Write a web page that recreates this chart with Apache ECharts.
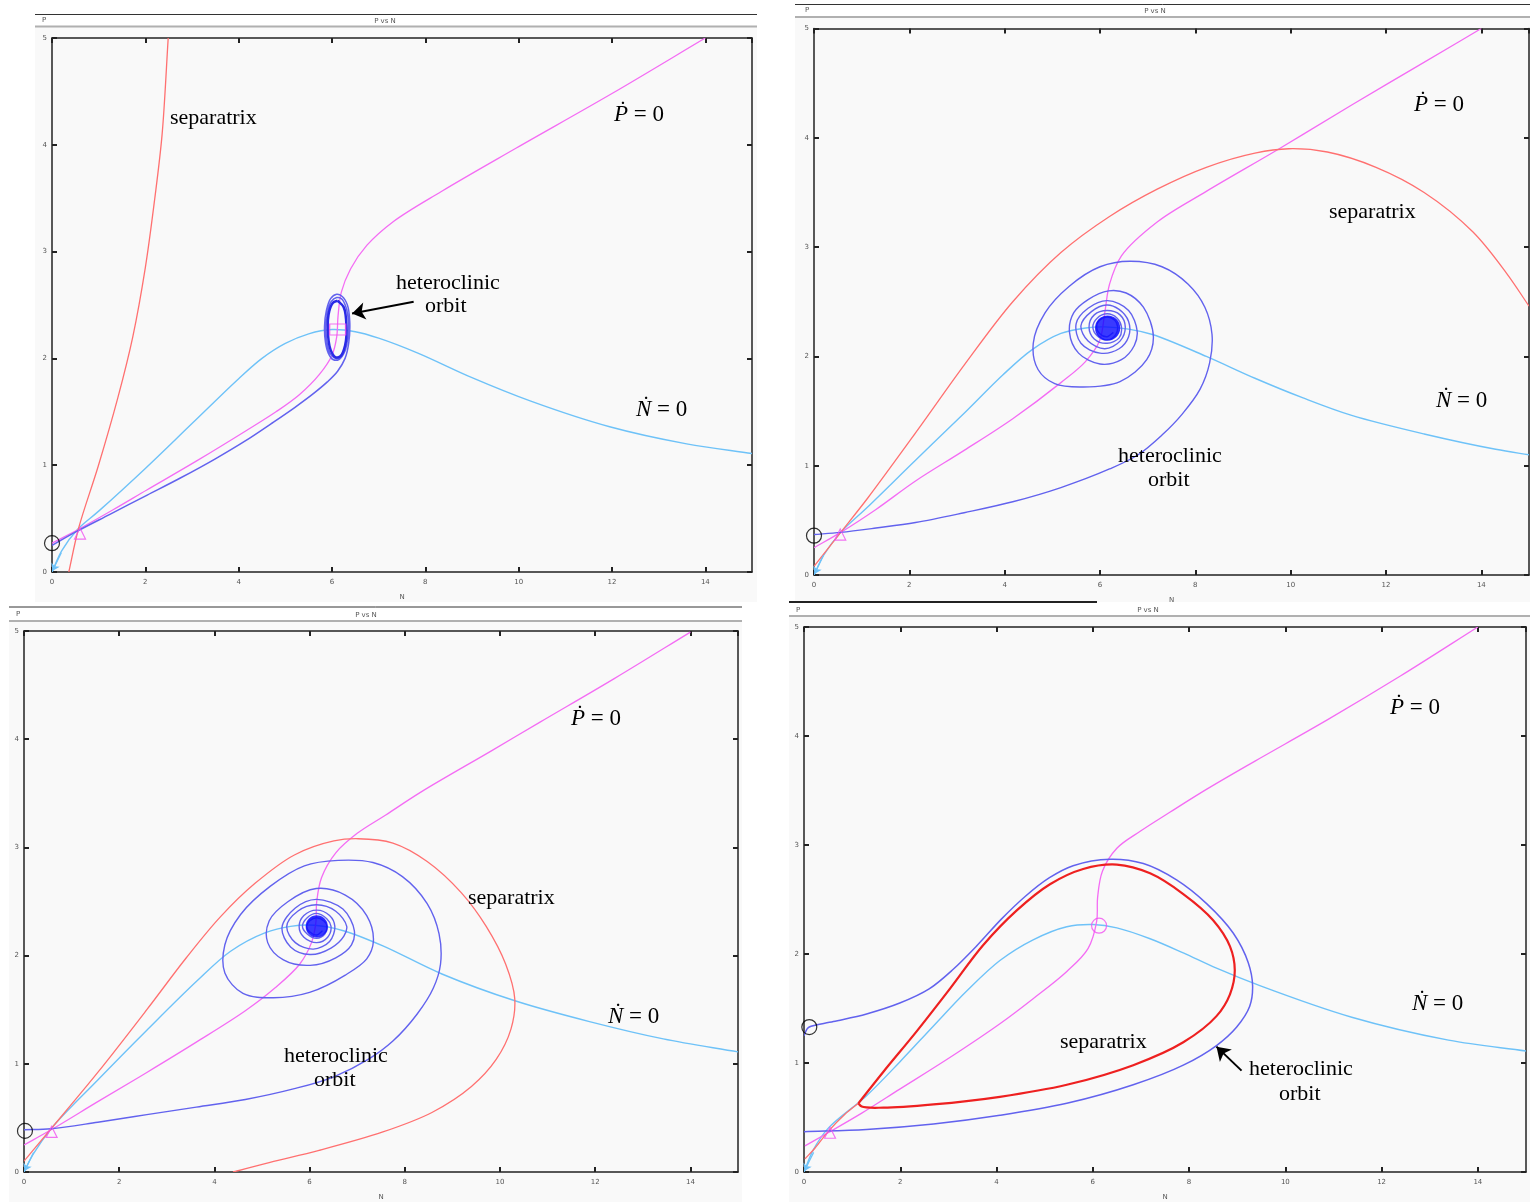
<!DOCTYPE html>
<html><head><meta charset="utf-8">
<script src="https://cdn.jsdelivr.net/npm/echarts@6/dist/echarts.min.js"></script>
<style>html,body{margin:0;padding:0;background:#fff}#c{width:1530px;height:1202px}</style>
</head><body><div id="c"></div><script>
// ---------- DATA (N, P) ----------
// Panel 1 (top-left)
const p1NNull = [[0,0],[0.21,0.2],[0.55,0.4],[1.0,0.57],[2.0,0.97],[3.0,1.39],[4.0,1.81],[4.5,2.0],[5.0,2.14],[5.5,2.23],[6.0,2.27],[6.5,2.25],[7.0,2.19],[7.84,2.05],[9.0,1.82],[10.26,1.6],[11.95,1.36],[13.6,1.2],[15,1.11]];
const p1PNull = [[0,0.27],[0.57,0.4],[1.3,0.58],[2.04,0.77],[3.1,1.04],[4.15,1.32],[4.8,1.5],[5.3,1.66],[5.73,1.85],[6.0,2.03],[6.1,2.2],[6.13,2.4],[6.2,2.62],[6.4,2.84],[6.75,3.06],[7.31,3.28],[8.37,3.57],[9.95,3.97],[12.0,4.48],[14.0,5.0]];
const p1Sep = [[0.36,0],[0.57,0.41],[0.99,0.99],[1.41,1.63],[1.73,2.2],[2.0,2.85],[2.2,3.49],[2.36,4.1],[2.49,5.0]];
const p1Orbit = [[0,0.25],[0.53,0.38],[1.24,0.54],[2.04,0.72],[2.75,0.88],[3.5,1.06],[4.15,1.23],[4.7,1.39],[5.2,1.54],[5.6,1.67],[5.9,1.78],[6.12,1.88],[6.28,2.0],[6.36,2.15],[6.38,2.35],[6.33,2.5],[6.22,2.58],[6.1,2.6],[5.97,2.56],[5.88,2.45],[5.84,2.3],[5.86,2.15],[5.92,2.05],[6.02,1.99],[6.15,1.99],[6.27,2.06],[6.34,2.2],[6.35,2.35],[6.3,2.48],[6.2,2.56],[6.1,2.57],[5.98,2.53],[5.9,2.42],[5.87,2.28],[5.9,2.13],[5.97,2.04],[6.08,2.0],[6.2,2.02],[6.29,2.12]];
const p1Cycle = [[6.12,2.54],[6.25,2.48],[6.31,2.3],[6.28,2.12],[6.18,2.02],[6.08,2.01],[5.97,2.08],[5.91,2.27],[5.94,2.44],[6.02,2.52],[6.12,2.54]];
const p1Circle = [[0,0.27]], p1Tri = [[0.6,0.36]], p1Square = [[6.12,2.27]];
const p1Arrow = [[7.75,2.53],[6.43,2.42]];

// Panel 2 (top-right)
const p2NNull = [[0,0],[0.2,0.18],[0.56,0.39],[1.12,0.62],[2.13,1.05],[3.15,1.48],[3.96,1.83],[4.57,2.06],[5.18,2.21],[5.7,2.26],[6.1,2.27],[6.6,2.25],[7.1,2.2],[8.23,2.0],[9.25,1.8],[10.26,1.62],[11.28,1.46],[12.8,1.29],[14.3,1.15],[15,1.1]];
const p2PNull = [[0,0.25],[0.56,0.39],[1.3,0.6],[2.13,0.86],[3.15,1.14],[4.17,1.43],[5.18,1.76],[5.69,1.95],[5.99,2.14],[6.1,2.4],[6.2,2.66],[6.45,2.92],[7.2,3.23],[8.23,3.51],[9.76,3.9],[11.28,4.3],[12.6,4.64],[14,5]];
const p2Sep = [[0,0.08],[0.56,0.39],[1.12,0.7],[2.13,1.3],[3.15,1.92],[4.17,2.5],[5.18,2.95],[6.2,3.28],[7.2,3.53],[8.23,3.73],[9.25,3.86],[9.96,3.9],[10.77,3.87],[11.79,3.73],[12.8,3.5],[13.82,3.14],[14.53,2.76],[15.0,2.46]];
const p2Orbit = [[0,0.37],[0.56,0.39],[1.3,0.43],[2.13,0.48],[3.15,0.57],[4.17,0.67],[5.18,0.8],[6.2,0.97],[6.8,1.1],[7.3,1.28],[7.72,1.47],[8.1,1.7],[8.3,1.94],[8.35,2.2],[8.2,2.45],[7.85,2.66],[7.3,2.82],[6.63,2.87],[6.0,2.82],[5.35,2.64],[4.85,2.4],[4.6,2.12],[4.7,1.88],[5.05,1.75],[5.65,1.72],[6.42,1.77],[6.98,1.97],[7.12,2.18],[6.91,2.45],[6.55,2.58],[6.18,2.6],[5.75,2.52],[5.45,2.4],[5.36,2.22],[5.55,2.03],[6.0,1.93],[6.45,1.97],[6.72,2.1],[6.78,2.23],[6.6,2.42],[6.16,2.51],[5.75,2.44],[5.5,2.3],[5.6,2.12],[6.0,2.03],[6.4,2.07],[6.6,2.18],[6.6,2.32],[6.4,2.43],[6.14,2.47],[5.82,2.41],[5.6,2.28],[5.75,2.14],[6.1,2.07],[6.42,2.14],[6.53,2.27],[6.42,2.38],[6.15,2.42],[5.88,2.38],[5.77,2.27],[5.88,2.16],[6.15,2.12],[6.4,2.17],[6.45,2.27],[6.36,2.35],[6.15,2.39],[5.94,2.35],[5.85,2.27],[5.94,2.19],[6.15,2.15],[6.33,2.2],[6.37,2.27],[6.31,2.33],[6.15,2.36],[5.99,2.33],[5.93,2.27],[5.99,2.21],[6.15,2.18],[6.28,2.22]];
const p2Circle = [[0,0.36]], p2Tri = [[0.55,0.37]], p2Focus = [[6.16,2.26]];

// Panel 3 (bottom-left)
const p3NNull = [[0,0],[0.2,0.17],[0.57,0.4],[1.55,0.85],[2.58,1.31],[3.62,1.76],[4.34,2.04],[5.06,2.21],[5.6,2.27],[6.1,2.28],[6.71,2.23],[7.54,2.09],[8.78,1.83],[10.33,1.58],[11.88,1.39],[13.43,1.23],[15,1.11]];
const p3PNull = [[0,0.25],[0.57,0.39],[1.55,0.65],[2.58,0.92],[3.62,1.2],[4.65,1.49],[5.27,1.7],[5.79,1.92],[6.04,2.12],[6.13,2.3],[6.15,2.5],[6.25,2.72],[6.55,2.95],[7.0,3.13],[7.6,3.3],[8.37,3.52],[9.81,3.89],[10.85,4.16],[12.4,4.56],[14.0,4.99]];
const p3Sep = [[0,0.1],[0.57,0.4],[1.55,0.92],[2.58,1.5],[3.41,1.98],[4.13,2.36],[4.86,2.67],[5.68,2.93],[6.51,3.06],[7.02,3.08],[7.75,3.04],[8.47,2.87],[9.19,2.58],[9.71,2.27],[10.12,1.92],[10.31,1.6],[10.23,1.32],[9.92,1.04],[9.4,0.79],[8.57,0.55],[7.54,0.37],[6.2,0.2],[5.17,0.09],[4.39,0]];
const p3Orbit = [[0,0.39],[0.57,0.4],[1.55,0.46],[2.58,0.53],[3.62,0.6],[4.65,0.67],[5.68,0.77],[6.51,0.88],[7.23,1.04],[7.75,1.21],[8.26,1.46],[8.6,1.7],[8.75,1.92],[8.72,2.2],[8.47,2.48],[7.95,2.73],[7.33,2.86],[6.6,2.88],[5.89,2.83],[5.17,2.64],[4.55,2.38],[4.22,2.1],[4.22,1.84],[4.6,1.65],[5.24,1.61],[6.0,1.66],[6.75,1.82],[7.2,1.97],[7.34,2.13],[7.2,2.37],[6.75,2.56],[6.14,2.62],[5.55,2.5],[5.15,2.32],[5.12,2.12],[5.45,1.96],[6.01,1.91],[6.55,1.98],[6.88,2.1],[6.94,2.23],[6.7,2.43],[6.14,2.52],[5.7,2.44],[5.42,2.26],[5.6,2.08],[6.01,2.01],[6.45,2.07],[6.72,2.18],[6.78,2.27],[6.55,2.41],[6.14,2.47],[5.75,2.41],[5.52,2.27],[5.7,2.12],[6.08,2.06],[6.42,2.13],[6.53,2.27],[6.42,2.37],[6.15,2.42],[5.88,2.37],[5.78,2.27],[5.88,2.17],[6.15,2.12],[6.38,2.17],[6.45,2.27],[6.36,2.34],[6.15,2.39],[5.95,2.35],[5.85,2.27],[5.95,2.2],[6.15,2.16],[6.32,2.2],[6.37,2.27],[6.3,2.32],[6.15,2.35],[6.0,2.32],[5.94,2.27],[6.0,2.22],[6.15,2.19],[6.27,2.23]];
const p3Circle = [[0.02,0.38]], p3Tri = [[0.58,0.37]], p3Focus = [[6.15,2.27]];

// Panel 4 (bottom-right)
const p4NNull = [[0,0],[0.19,0.2],[0.5,0.4],[1.3,0.7],[1.99,1.01],[2.69,1.34],[3.38,1.66],[4.07,1.94],[4.76,2.13],[5.46,2.25],[6.01,2.27],[6.5,2.24],[7.19,2.14],[7.88,2.01],[8.57,1.87],[9.47,1.71],[11.38,1.42],[13.39,1.21],[15,1.11]];
const p4PNull = [[0.02,0.24],[0.5,0.36],[1.2,0.54],[1.99,0.76],[3.03,1.05],[4.07,1.36],[4.76,1.59],[5.46,1.84],[5.9,2.05],[6.08,2.3],[6.1,2.52],[6.2,2.76],[6.5,2.97],[7.0,3.13],[7.6,3.3],[8.36,3.51],[9.37,3.77],[10.88,4.15],[12.39,4.55],[14,5]];
const p4SepTail = [[0.02,0.12],[0.23,0.22],[0.5,0.37],[0.85,0.53],[1.13,0.63]];
const p4SepLoop = [[1.13,0.63],[1.65,0.92],[2.34,1.29],[3.03,1.68],[3.72,2.08],[4.42,2.4],[5.11,2.64],[5.8,2.78],[6.5,2.82],[7.19,2.74],[7.88,2.55],[8.5,2.31],[8.85,2.07],[8.95,1.85],[8.85,1.63],[8.57,1.43],[7.88,1.19],[6.84,0.98],[5.46,0.8],[4.07,0.69],[2.69,0.62],[1.65,0.59],[1.2,0.6],[1.13,0.63]];
const p4Orbit = [[0.0,1.25],[0.06,1.31],[0.11,1.33],[0.61,1.38],[1.3,1.45],[1.99,1.55],[2.6,1.68],[3.1,1.86],[3.6,2.08],[4.1,2.32],[4.6,2.53],[5.1,2.7],[5.59,2.81],[6.36,2.87],[7.05,2.83],[7.74,2.68],[8.37,2.46],[8.92,2.19],[9.23,1.92],[9.32,1.71],[9.26,1.52],[8.99,1.33],[8.57,1.16],[7.88,0.98],[6.84,0.8],[5.46,0.63],[4.07,0.52],[2.69,0.44],[1.3,0.39],[0,0.37]];
const p4Circle = [[0.11,1.33]], p4Tri = [[0.54,0.36]], p4Saddle = [[6.13,2.26]];
const p4Arrow = [[9.09,0.93],[8.57,1.15]];

// small direction arrow of the N-nullcline at the origin (all panels)
const originArrow = [[0.2,0.18],[0.01,0.01]];

// ---------- STYLE / LAYOUT ----------
const COL = {sep:'#ff7070', pn:'#f46cf4', nn:'#6ec2f8', orb:'#6262ee'};
const grids = [
  {left:52, top:38, width:700, height:534},
  {left:814, top:28.5, width:715, height:546.5},
  {left:24, top:631, width:714, height:546},
  {left:804, top:627, width:722, height:551}
];
const axLine = {show:true, onZero:false, lineStyle:{color:'#222', width:1.5}};
const axTick = {show:true, inside:true, length:5, lineStyle:{color:'#222', width:2}};
const xAxes = [], yAxes = [];
grids.forEach((g, i) => {
  xAxes.push({gridIndex:i, type:'value', min:0, max:15, interval:2, position:'bottom',
    name:'N', nameLocation:'middle', nameGap:22, nameTextStyle:{fontSize:7, color:'#555', fontFamily:'DejaVu Sans'},
    axisLine:axLine, axisTick:axTick, splitLine:{show:false},
    axisLabel:{fontSize:7, color:'#555', margin:7, showMaxLabel:false, fontFamily:'DejaVu Sans'}});
  xAxes.push({gridIndex:i, type:'value', min:0, max:15, interval:2, position:'top',
    axisLine:axLine, axisTick:axTick, splitLine:{show:false}, axisLabel:{show:false}});
  yAxes.push({gridIndex:i, type:'value', min:0, max:5, interval:1, position:'left',
    axisLine:axLine, axisTick:axTick, splitLine:{show:false},
    axisLabel:{fontSize:7, color:'#555', margin:5, fontFamily:'DejaVu Sans'}});
  yAxes.push({gridIndex:i, type:'value', min:0, max:5, interval:1, position:'right',
    axisLine:axLine, axisTick:axTick, splitLine:{show:false}, axisLabel:{show:false}});
});

// centripetal Catmull-Rom spline through pixel points -> SVG path
function dist(a, b) { return Math.hypot(a[0] - b[0], a[1] - b[1]); }
function spline(P) {
  const n = P.length;
  let d = 'M' + P[0][0].toFixed(2) + ' ' + P[0][1].toFixed(2);
  for (let i = 0; i < n - 1; i++) {
    const p0 = P[i - 1] || P[i], p1 = P[i], p2 = P[i + 1], p3 = P[i + 2] || P[i + 1];
    const a1 = Math.sqrt(dist(p0, p1)), a2 = Math.sqrt(dist(p1, p2)), a3 = Math.sqrt(dist(p2, p3));
    if (a2 < 1e-6) continue;
    let c1, c2;
    if (a1 < 1e-6) c1 = [p1[0] + (p2[0] - p1[0]) / 3, p1[1] + (p2[1] - p1[1]) / 3];
    else {
      const A = a1 * a1, B = a2 * a2, den = 3 * a1 * (a1 + a2), k = 2 * A + 3 * a1 * a2 + B;
      c1 = [(A * p2[0] - B * p0[0] + k * p1[0]) / den, (A * p2[1] - B * p0[1] + k * p1[1]) / den];
    }
    if (a3 < 1e-6) c2 = [p2[0] + (p1[0] - p2[0]) / 3, p2[1] + (p1[1] - p2[1]) / 3];
    else {
      const C = a3 * a3, B = a2 * a2, den = 3 * a3 * (a3 + a2), k = 2 * C + 3 * a3 * a2 + B;
      c2 = [(C * p1[0] - B * p3[0] + k * p2[0]) / den, (C * p1[1] - B * p3[1] + k * p2[1]) / den];
    }
    d += ' C' + c1[0].toFixed(2) + ' ' + c1[1].toFixed(2) + ' ' + c2[0].toFixed(2) + ' ' + c2[1].toFixed(2) + ' ' + p2[0].toFixed(2) + ' ' + p2[1].toFixed(2);
  }
  return d;
}
function L(g, data, color, width, z) {
  return {type:'custom', coordinateSystem:'cartesian2d', xAxisIndex:g*2, yAxisIndex:g*2, data:[data[0]], silent:true, z:z || 2, clip:true,
    renderItem: function (params, api) {
      const pts = data.map(p => api.coord(p));
      return {type:'path', shape:{pathData: spline(pts)}, style:{stroke:color, lineWidth:width, fill:'none', lineJoin:'round'}};
    }};
}
function M(g, data, symbol, size, border, fill) {
  return {type:'scatter', xAxisIndex:g*2, yAxisIndex:g*2, data:data, symbol:symbol, symbolSize:size, clip:false,
    itemStyle:{color:fill || 'rgba(0,0,0,0)', borderColor:border, borderWidth:1.2}, silent:true, z:6};
}
function A(g, coords, color, width, head) {
  return {type:'lines', coordinateSystem:'cartesian2d', xAxisIndex:g*2, yAxisIndex:g*2, data:[{coords:coords}],
    symbol:['none','arrow'], symbolSize:[0, head || 13], lineStyle:{color:color || '#000', width:width || 2, opacity:1, curveness:0}, silent:true, z:10};
}
const series = [
  // panel 1
  L(0, p1NNull, COL.nn, 1.4), L(0, p1PNull, COL.pn, 1.3), L(0, p1Sep, COL.sep, 1.3),
  L(0, p1Orbit, COL.orb, 1.5), L(0, p1Cycle, '#2a2ae6', 2.5, 3),
  M(0, p1Circle, 'circle', 15, '#000'), M(0, p1Tri, 'triangle', 11, '#f050f0'), M(0, p1Square, 'rect', [16,11], '#f050f0'),
  A(0, p1Arrow), A(0, originArrow, COL.nn, 1.2, 7),
  // panel 2
  L(1, p2NNull, COL.nn, 1.4), L(1, p2PNull, COL.pn, 1.3), L(1, p2Sep, COL.sep, 1.3),
  L(1, p2Orbit, COL.orb, 1.4),
  M(1, p2Focus, 'circle', 24, '#1010ff', '#0a0aff'),
  M(1, p2Circle, 'circle', 15, '#000'), M(1, p2Tri, 'triangle', 11, '#f050f0'),
  A(1, originArrow, COL.nn, 1.2, 7),
  // panel 3
  L(2, p3NNull, COL.nn, 1.4), L(2, p3PNull, COL.pn, 1.3), L(2, p3Sep, COL.sep, 1.3),
  L(2, p3Orbit, COL.orb, 1.4),
  M(2, p3Focus, 'circle', 21, '#1010ff', '#0a0aff'),
  M(2, p3Circle, 'circle', 15, '#000'), M(2, p3Tri, 'triangle', 11, '#f050f0'),
  A(2, originArrow, COL.nn, 1.2, 7),
  // panel 4
  L(3, p4NNull, COL.nn, 1.4), L(3, p4PNull, COL.pn, 1.3), L(3, p4SepTail, COL.sep, 1.3),
  L(3, p4SepLoop, '#ee2020', 2.2, 3), L(3, p4Orbit, COL.orb, 1.5),
  M(3, p4Circle, 'circle', 15, '#000'), M(3, p4Tri, 'triangle', 11, '#f050f0'), M(3, p4Saddle, 'circle', 15, '#f050f0'),
  A(3, p4Arrow), A(3, originArrow, COL.nn, 1.2, 7)
];

// ---------- annotations ----------
const serif = '"Liberation Serif", "Times New Roman", "DejaVu Serif", serif';
const rich = {i:{fontStyle:'italic', fontSize:23, fontFamily:serif, fill:'#000'}, n:{fontSize:23, fontFamily:serif, fill:'#000'}};
function T(x, y, text) {
  return {type:'text', x:x, y:y, silent:true, z:20, style:{text:text, font:'22px ' + serif, fill:'#000', align:'left', verticalAlign:'middle'}};
}
function D(x, y, letter) {
  return {type:'text', x:x, y:y, silent:true, z:20, style:{text:'{i|' + letter + '}{n| = 0}', rich:rich, font:'23px ' + serif, fill:'#000', align:'left', verticalAlign:'middle'}};
}
function Hline(x1, x2, y, color, w) { return {type:'line', silent:true, z:1, shape:{x1:x1, y1:y, x2:x2, y2:y}, style:{stroke:color, lineWidth:w}}; }
function S(x, y, text, align) { return {type:'text', x:x, y:y, silent:true, z:20, style:{text:text, font:'7px "DejaVu Sans"', fill:'#555', align:align || 'left', verticalAlign:'middle'}}; }
function R(x, y, w, h) { return {type:'rect', silent:true, z:-10, shape:{x:x, y:y, width:w, height:h}, style:{fill:'#f9f9f9'}}; }
const graphic = [
  R(35,27,722,575), R(795,17,735,585), R(9,621,733,581), R(789,616,741,586),
  Hline(35,757,14.5,'#333',1), Hline(35,757,26.5,'#b0b0b0',2), S(42,20,'P'), S(385,21,'P vs N','center'),
  Hline(795,1530,4.5,'#333',1), Hline(795,1530,17,'#b0b0b0',2), S(805,10.5,'P'), S(1155,11.5,'P vs N','center'),
  Hline(9,742,607,'#333',1), Hline(9,742,621,'#b0b0b0',2), S(16,614,'P'), S(366,615,'P vs N','center'),
  Hline(789,1097,602,'#222',2), Hline(789,1530,616,'#b0b0b0',2), S(796,610,'P'), S(1148,610.5,'P vs N','center'),
  // panel 1
  T(170,118,'separatrix'), D(614,115,'Ṗ'), D(636,410,'Ṅ'), T(396,283,'heteroclinic'), T(425,306,'orbit'),
  // panel 2
  D(1414,105,'Ṗ'), T(1329,212,'separatrix'), D(1436,401,'Ṅ'), T(1118,456,'heteroclinic'), T(1148,480,'orbit'),
  // panel 3
  D(571,719,'Ṗ'), T(468,898,'separatrix'), D(608,1017,'Ṅ'), T(284,1056,'heteroclinic'), T(314,1080,'orbit'),
  // panel 4
  D(1390,708,'Ṗ'), T(1060,1042,'separatrix'), D(1412,1004,'Ṅ'), T(1249,1069,'heteroclinic'), T(1279,1094,'orbit')
];

const chart = echarts.init(document.getElementById('c'), null, {renderer:'canvas'});
chart.setOption({
  animation:false,
  backgroundColor:'#ffffff',
  grid: grids.map(g => Object.assign({show:true, backgroundColor:'#f9f9f9', borderWidth:0, containLabel:false}, g)),
  xAxis: xAxes, yAxis: yAxes, series: series, graphic: graphic
});
</script></body></html>
